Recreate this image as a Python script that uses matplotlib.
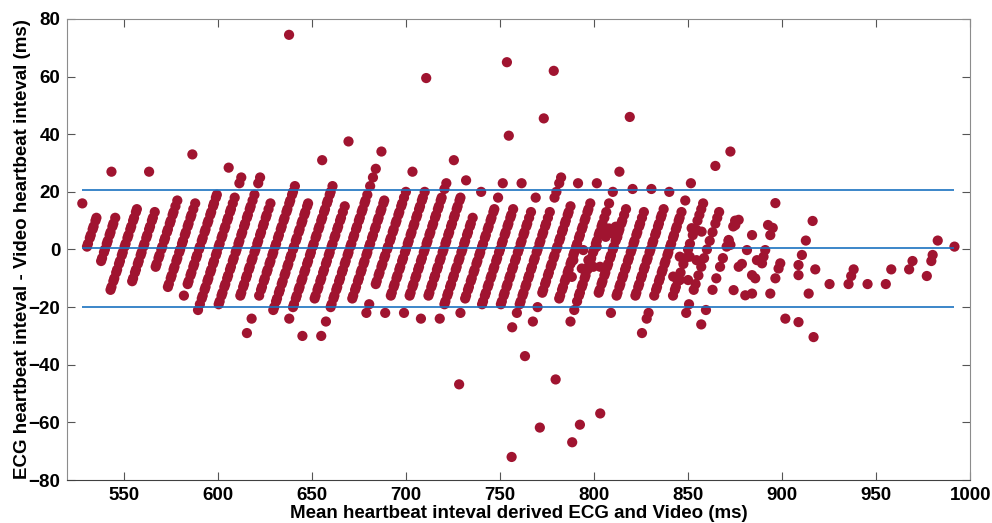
import matplotlib
matplotlib.use('Agg')
import matplotlib.pyplot as plt

# video heartbeat interval of each diagonal band (ms)
band_video = [520, 530, 540, 550, 560, 570, 580, 590, 600, 610, 620, 630, 640, 650,
              660, 670, 680, 690, 700, 710, 720, 730, 740, 750, 760, 770, 780, 790,
              800, 810, 820, 830, 840, 850, 860, 870]

# ECG - video differences found on each band (ms)
band_diff = [
    [16],
    [1, 2, 4, 5, 7, 8, 10, 11, 27],
    [-4, -3, -1, 0, 2, 3, 5, 6, 8, 9, 11],
    [-14, -13, -11, -10, -8, -7, -5, -4, -2, -1, 1, 2, 4, 5, 7, 8, 10, 11, 13, 14, 27],
    [-11, -10, -8, -7, -5, -4, -2, -1, 1, 2, 4, 5, 7, 8, 10, 11, 13],
    [-6, -5, -3, -2, 0, 1, 3, 4, 6, 7, 9, 10, 12, 13, 15, 17, 33],
    [-13, -12, -10, -9, -7, -6, -4, -3, -1, 0, 2, 3, 5, 6, 8, 9, 11, 12, 14, 16],
    [-16, -12, -11, -9, -8, -6, -5, -3, -2, 0, 1, 3, 4, 6, 7, 9, 10, 12, 13, 15, 16, 18, 19],
    [-21, -19, -17, -16, -14, -13, -11, -10, -8, -7, -5, -4, -2, -1, 1, 2, 4, 5, 7, 8,
     10, 11, 13, 14, 16, 18, 23, 25],
    [-19, -18, -16, -15, -13, -12, -10, -9, -7, -6, -4, -3, -1, 0, 2, 3, 5, 6, 8, 9,
     11, 12, 14, 15, 17, 19, 23, 25],
    [-16, -15, -13, -12, -10, -9, -7, -6, -4, -3, -1, 0, 2, 3, 5, 6, 8, 9, 11, 12, 14, 16],
    [-29, -24, -16, -14, -13, -11, -10, -8, -7, -5, -4, -2, -1, 1, 2, 4, 5, 7, 8, 10,
     11, 13, 14, 16, 17, 19, 20, 22],
    [-21, -20, -18, -17, -15, -14, -12, -11, -9, -8, -6, -5, -3, -2, 0, 1, 3, 4, 6, 7,
     9, 10, 12, 13, 15, 16, 31],
    [-24, -20, -19, -17, -16, -14, -13, -11, -10, -8, -7, -5, -4, -2, -1, 1, 2, 4, 5, 7,
     8, 10, 11, 13, 14, 16, 17, 19, 20, 22],
    [-30, -17, -16, -14, -13, -11, -10, -8, -7, -5, -4, -2, -1, 1, 2, 4, 5, 7, 8, 10,
     11, 13, 15],
    [-30, -25, -20, -19, -17, -16, -14, -13, -11, -10, -8, -7, -5, -4, -2, -1, 1, 2, 4, 5,
     7, 8, 10, 11, 13, 14, 16, 17, 19, 22, 25, 28, 34],
    [-17, -16, -14, -13, -11, -10, -8, -7, -5, -4, -2, -1, 1, 2, 4, 5, 7, 8, 10, 11,
     13, 14, 16, 17],
    [-22, -19, -12, -11, -9, -8, -6, -5, -3, -2, 0, 1, 3, 4, 6, 7, 9, 10, 12, 13,
     15, 16, 18, 20, 27],
    [-22, -16, -15, -13, -12, -10, -9, -7, -6, -4, -3, -1, 0, 2, 3, 5, 6, 8, 9, 11,
     12, 14, 15, 17, 18, 20],
    [-22, -16, -15, -13, -12, -10, -9, -7, -6, -4, -3, -1, 0, 2, 3, 5, 6, 8, 9, 11,
     12, 14, 15, 17, 18, 21, 23, 31],
    [-24, -16, -15, -13, -12, -10, -9, -7, -6, -4, -3, -1, 0, 2, 3, 5, 6, 8, 9, 11,
     12, 14, 15, 17, 18, 24],
    [-24, -19, -18, -16, -15, -13, -12, -10, -9, -7, -6, -4, -3, -1, 0, 2, 3, 5, 6, 8,
     9, 11, 20],
    [-22, -17, -16, -14, -13, -11, -10, -8, -7, -5, -4, -2, -1, 1, 2, 4, 5, 7, 8, 10,
     11, 13, 14, 18, 23],
    [-19, -18, -16, -15, -13, -12, -10, -9, -7, -6, -4, -3, -1, 0, 2, 3, 5, 6, 8, 9,
     11, 12, 14, 23],
    [-19, -18, -16, -15, -13, -12, -10, -9, -7, -6, -4, -3, -1, 0, 2, 3, 5, 6, 8, 9,
     11, 13, 18],
    [-27, -22, -19, -18, -16, -15, -13, -12, -10, -9, -7, -6, -4, -3, -1, 0, 2, 3, 5, 6,
     8, 9, 11, 13, 18, 20, 23, 25],
    [-25, -20, -15, -14, -12, -11, -9, -8, -6, -5, -3, -2, 0, 1, 3, 4, 6, 7, 9, 10,
     12, 13, 15, 23],
    [-17, -16, -14, -13, -11, -10, -8, -7, -5, -4, -2, -1, 1, 2, 4, 5, 7, 8, 10, 11,
     13, 14, 16, 23],
    [-25, -21, -18, -16, -15, -13, -12, -10, -9, -7, -6, -4, -3, -1, 0, 2, 3, 5, 6, 8,
     9, 11, 13, 16, 20, 27],
    [-15, -14, -12, -11, -9, -8, -6, -5, -3, -2, 0, 1, 3, 4, 6, 7, 9, 10, 12, 14, 21],
    [-22, -16, -15, -13, -12, -10, -9, -7, -6, -4, -3, -1, 0, 2, 3, 5, 6, 8, 9, 11, 13, 21],
    [-16, -15, -13, -12, -10, -9, -7, -6, -4, -3, -1, 0, 2, 3, 5, 6, 8, 9, 11, 12, 14, 20],
    [-29, -24, -22, -16, -14, -13, -11, -10, -8, -7, -5, -4, -2, -1, 1, 2, 4, 5, 7, 8,
     10, 11, 13, 17, 23],
    [-16, -14, -13, -11, -10, -8, -5, -3, 0, 2, 5, 7, 10, 12, 14, 16, 29],
    [-22, -19, -14, -12, -9, -6, -3, 0, 3, 6, 9, 11, 13],
    [-26, -21, -14, -10, -6, -3, 1, 3, 8, 10],
]

# points off the bands: mean interval (ms) and difference (ms)
extra_mean = [637.9, 710.8, 753.7, 778.6, 819.0, 773.3, 754.7, 669.5, 872.5, 605.8,
              728.3, 763.3, 779.6, 803.3, 792.5, 771.2, 788.4, 756.2,
              804.5, 808.0, 811.5, 809.7, 806.2, 812.4, 789.0, 794.3, 801.4, 803.2,
              799.6, 797.0, 793.5, 788.2,
              845.6, 850.9, 854.5, 842.1, 845.6, 850.0, 851.9, 854.5, 857.2,
              876.9, 875.1, 896.4, 892.5, 895.0, 893.7, 884.0, 871.6, 872.5,
              881.3, 876.9, 878.6, 891.0, 890.1, 889.3, 886.6, 884.0, 885.7,
              899.0, 898.1, 896.4, 893.7, 880.4, 884.0, 874.2,
              901.7, 908.7, 916.7, 914.1, 908.7, 908.7, 910.5, 912.6, 916.2,
              917.6, 925.2, 935.3, 936.7, 938.0, 945.4, 955.1, 958.0, 967.5,
              969.3, 976.9, 979.3, 980.0, 982.7, 991.6]
extra_diff = [74.5, 59.5, 65.0, 62.0, 46.0, 45.5, 39.5, 37.5, 34.0, 28.4,
              -46.8, -37.0, -45.1, -56.9, -60.8, -61.8, -66.9, -72.0,
              6.8, 7.3, 7.9, 5.6, 4.4, 4.4, -3.7, -0.2, 1.0, -6.0,
              -6.0, -3.7, -6.6, -9.5,
              -2.5, -2.5, -3.7, -9.4, -10.6, -10.6, 7.4, 6.8, 6.2,
              10.3, 8.5, 16.1, 8.5, 7.5, 5.0, 5.0, 3.3, 1.6,
              -0.2, -6.0, -5.0, -0.2, -2.5, -4.8, -3.7, -8.9, -10.0,
              -4.8, -6.6, -10.0, -15.3, -15.9, -15.3, -14.1,
              -24.0, -25.2, -30.4, -15.3, -5.4, -8.9, -1.9, 3.1, 9.9,
              -6.9, -12.0, -12.0, -9.2, -6.9, -12.0, -12.0, -6.9, -6.9,
              -4.0, -9.2, -4.0, -1.9, 3.1, 1.0]

# bias and limits of agreement (ms)
bias = 0.35
upper_loa = 20.5
lower_loa = -19.8

mean_ms = []
diff_ms = []
for video, diffs in zip(band_video, band_diff):
    for d in diffs:
        ecg = video + d
        mean_ms.append((ecg + video) / 2)
        diff_ms.append(ecg - video)
mean_ms += extra_mean
diff_ms += extra_diff

plt.rcParams['font.family'] = ['Liberation Sans', 'DejaVu Sans']
plt.rcParams['font.weight'] = 'bold'

fig = plt.figure(figsize=(9.92, 5.23), dpi=100)
ax = fig.add_axes([0.0678, 0.0822, 0.9103, 0.8815])

ax.scatter(mean_ms, diff_ms, s=54, color='#A01430', edgecolors='none', zorder=2)

lo, hi = min(mean_ms), max(mean_ms)
for yv in (upper_loa, bias, lower_loa):
    ax.hlines(yv, lo, hi, color='#1a72c0', linewidth=1.2, zorder=3)

ax.set_xlim(520, 1000)
ax.set_ylim(-80, 80)
ax.set_xticks(range(550, 1001, 50))
ax.set_yticks(range(-80, 81, 20))

ax.tick_params(direction='in', length=6, width=0.8, color='#555555',
               top=True, right=True, labelsize=13.5, pad=5)
for lab in ax.get_xticklabels() + ax.get_yticklabels():
    lab.set_fontweight('bold')
for side in ('left', 'right', 'top'):
    ax.spines[side].set_color('#8c8c8c')
ax.spines['bottom'].set_color('#404040')

ax.set_xlabel('Mean heartbeat inteval derived ECG and Video (ms)', fontsize=13.5,
              fontweight='bold', labelpad=1)
ax.set_ylabel('ECG heartbeat inteval - Video heartbeat inteval (ms)', fontsize=13.5,
              fontweight='bold', labelpad=-2)

plt.savefig('out.png', dpi=100)
